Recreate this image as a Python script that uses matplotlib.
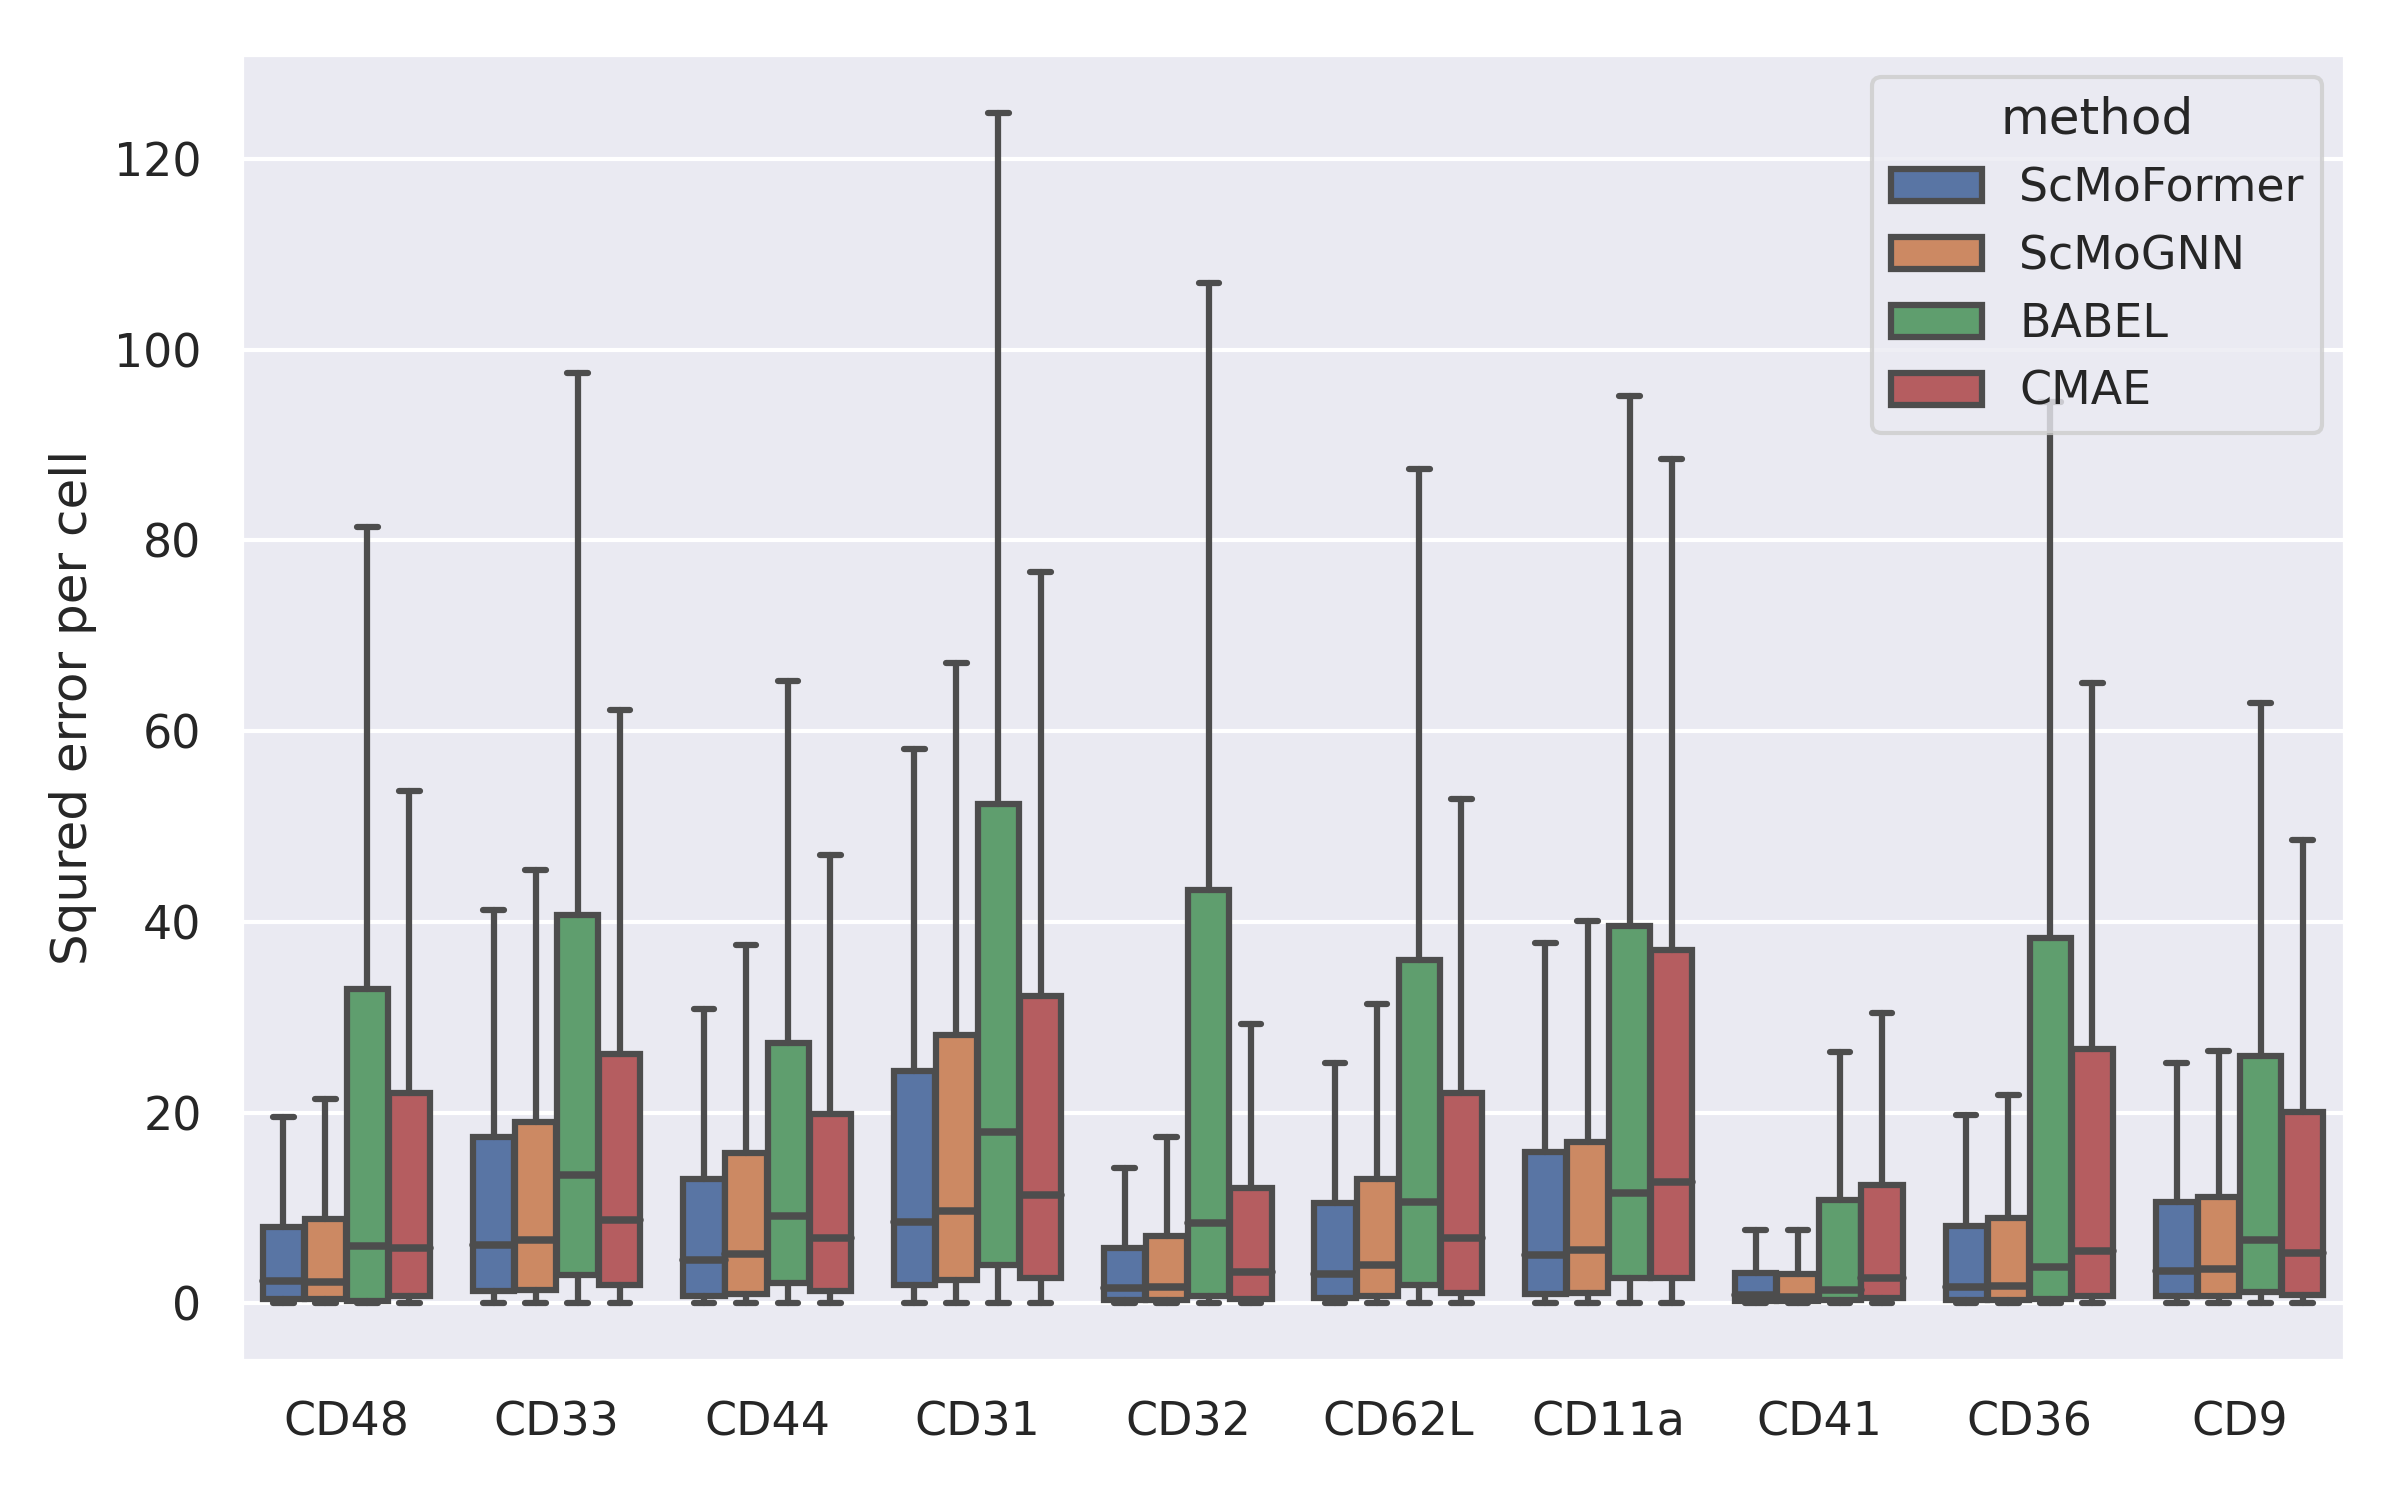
import matplotlib
matplotlib.use('Agg')
import matplotlib.pyplot as plt
import seaborn as sns
from matplotlib.patches import Patch

# proteins on the x axis and the methods compared (hue)
proteins = ['CD48', 'CD33', 'CD44', 'CD31', 'CD32', 'CD62L', 'CD11a', 'CD41', 'CD36', 'CD9']
methods = ['ScMoFormer', 'ScMoGNN', 'BABEL', 'CMAE']

# box statistics, one list per method (order = proteins)
medians = {
    'ScMoFormer': [2.3, 6.1, 4.5, 8.5, 1.6, 3.1, 5.1, 0.9, 1.7, 3.4],
    'ScMoGNN':    [2.2, 6.6, 5.2, 9.7, 1.7, 4.0, 5.6, 0.7, 1.8, 3.6],
    'BABEL':      [6.0, 13.5, 9.2, 18.0, 8.4, 10.6, 11.6, 1.4, 3.8, 6.6],
    'CMAE':       [5.8, 8.7, 6.8, 11.4, 3.3, 6.8, 12.7, 2.6, 5.5, 5.3],
}
q1 = {
    'ScMoFormer': [0.5, 1.3, 0.8, 1.9, 0.3, 0.6, 1.0, 0.2, 0.3, 0.8],
    'ScMoGNN':    [0.5, 1.4, 1.0, 2.4, 0.3, 0.8, 1.1, 0.2, 0.3, 0.8],
    'BABEL':      [0.2, 3.0, 2.1, 4.0, 0.8, 1.9, 2.6, 0.3, 0.5, 1.2],
    'CMAE':       [0.8, 1.9, 1.3, 2.6, 0.5, 1.1, 2.7, 0.6, 0.8, 0.9],
}
q3 = {
    'ScMoFormer': [8.0, 17.4, 13.0, 24.4, 5.8, 10.5, 15.9, 3.2, 8.1, 10.6],
    'ScMoGNN':    [8.8, 19.0, 15.8, 28.1, 7.1, 13.0, 16.9, 3.1, 8.9, 11.1],
    'BABEL':      [33.0, 40.7, 27.3, 52.4, 43.3, 36.0, 39.6, 10.8, 38.3, 25.9],
    'CMAE':       [22.0, 26.1, 19.8, 32.2, 12.1, 22.0, 37.0, 12.4, 26.7, 20.1],
}
whis_hi = {
    'ScMoFormer': [19.5, 41.2, 30.9, 58.1, 14.2, 25.2, 37.8, 7.7, 19.7, 25.2],
    'ScMoGNN':    [21.4, 45.4, 37.6, 67.1, 17.4, 31.4, 40.1, 7.7, 21.8, 26.5],
    'BABEL':      [81.4, 97.5, 65.3, 124.8, 107.0, 87.5, 95.1, 26.4, 94.5, 62.9],
    'CMAE':       [53.7, 62.2, 47.0, 76.7, 29.3, 52.9, 88.5, 30.4, 65.0, 48.6],
}
whis_lo = 0.0

sns.set_theme(style='darkgrid')
fig, ax = plt.subplots(figsize=(8, 5), dpi=300)
fig.subplots_adjust(left=0.1005, right=0.977, top=0.964, bottom=0.093)

colors = sns.color_palette('deep', 4, desat=0.75)
gray = '#4d4d4d'
lw = 1.5
n = len(methods)
w = 0.8 / n

for j, m in enumerate(methods):
    stats = []
    for i, p in enumerate(proteins):
        stats.append(dict(med=medians[m][i], q1=q1[m][i], q3=q3[m][i],
                          whislo=whis_lo, whishi=whis_hi[m][i], label=p))
    pos = [i + (j - (n - 1) / 2) * w for i in range(len(proteins))]
    ax.bxp(stats, positions=pos, widths=w * 0.98, showfliers=False,
           patch_artist=True, manage_ticks=False,
           boxprops=dict(facecolor=colors[j], edgecolor=gray, linewidth=lw),
           medianprops=dict(color=gray, linewidth=lw * 1.2, solid_capstyle='round'),
           whiskerprops=dict(color=gray, linewidth=lw),
           capprops=dict(color=gray, linewidth=lw, solid_capstyle='round'))

ax.set_xticks(range(len(proteins)))
ax.set_xticklabels(proteins)
ax.set_xlim(-0.5, len(proteins) - 0.5)
ax.set_ylim(-6, 131)
ax.set_yticks([0, 20, 40, 60, 80, 100, 120])
ax.xaxis.grid(False)
ax.set_ylabel('Squred error per cell')

handles = [Patch(facecolor=colors[j], edgecolor=gray, linewidth=lw, label=m)
           for j, m in enumerate(methods)]
ax.legend(handles=handles, title='method', loc='upper right')

plt.savefig('out.png', dpi=300)
